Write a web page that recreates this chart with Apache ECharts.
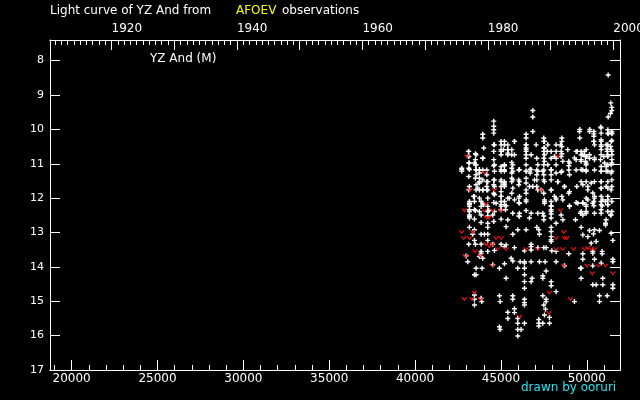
<!DOCTYPE html>
<html>
<head>
<meta charset="utf-8">
<script src="https://cdn.jsdelivr.net/npm/echarts@6/dist/echarts.min.js"></script>
<style>html,body{margin:0;padding:0;background:#000;}#c{width:640px;height:400px;}</style>
</head>
<body>
<div id="c"></div>
<script>
// JD - 2400000 range shown and magnitude range (inverted)
const jdRange = [18742, 51934];
const magRange = [7.4, 17];
const jdMajorTicks = [20000, 25000, 30000, 35000, 40000, 45000, 50000];
const jdMinorTicks = [19000,21000,22000,23000,24000,26000,27000,28000,29000,31000,32000,33000,34000,36000,37000,38000,39000,41000,42000,43000,44000,46000,47000,48000,49000,51000];
const yearLabels = [1920, 1940, 1960, 1980, 2000];
const yearMajorTicks = [1920, 1930, 1940, 1950, 1960, 1970, 1980, 1990, 2000];
const magTicks = [8, 9, 10, 11, 12, 13, 14, 15, 16, 17];

// visual observations [JD-2400000, magnitude]
const visualObs = [
 [51245,8.42],[51397,9.23],[51455,9.36],[51455,9.45],[51379,9.54],[51245,9.64],
 [46856,9.45],[46856,9.64],[44584,9.76],[44584,9.91],[44584,10.01],[44584,10.11],[46856,10.06],[49575,10.06],[50157,10.06],[50410,10.06],[50837,9.96],[50837,10.11],[51226,10.11],[51459,10.11],[51459,10.06],[51226,10.01],
 [50815,9.93],[50407,10.13],[50174,10.0],[49592,10.0],[51245,10.13],[51455,10.13],[49592,10.25],
 [43943,10.14],[43943,10.25],[46468,10.14],[46468,10.25],[47497,10.25],[47497,10.35],[50410,10.20],[50410,10.35],[50837,10.30],[51459,10.32],[51128,10.45],
 [45011,10.35],[45788,10.35],[44584,10.45],[45205,10.45],[46468,10.45],[46468,10.59],[47497,10.54],[47497,10.64],[47691,10.64],[48215,10.64],[48215,10.45],[48545,10.25],[48545,10.35],[48545,10.50],[49380,10.64],[49672,10.64],[49866,10.64],[50837,10.50],[51187,10.57],[51187,10.64],[51459,10.64],[51381,10.50],
 [43127,10.64],[43127,10.79],[43516,10.71],[43943,10.84],[44584,10.64],[45011,10.64],[45147,10.59],[45400,10.59],[45633,10.59],[45400,10.69],[45633,10.74],[46468,10.84],[47089,10.84],[47497,10.84],[47924,10.84],[48215,10.84],[48545,10.71],[48953,10.93],[48953,11.06],[49380,10.88],[49672,10.88],[49769,10.74],[49924,10.79],[49924,10.93],[50157,10.84],[50449,10.88],[50798,10.88],[50992,10.79],[51226,10.74],[51459,10.74],[51459,10.88],[51459,10.98],
 [42720,11.13],[42720,11.22],[43127,10.98],[43127,11.13],[43516,10.88],[43516,11.03],[43555,11.18],[43749,11.18],[43749,11.27],[43943,11.18],[44176,11.18],[44176,11.32],[44584,10.88],[44584,11.06],[45011,11.08],[45011,11.22],[45205,11.06],[45205,11.18],[45633,10.96],[45633,11.13],[45633,11.27],[46040,11.18],[46468,11.22],[46701,11.16],[46701,11.27],[47089,11.18],[47497,11.03],[47497,11.18],[47497,11.32],[47924,11.18],[48215,11.03],[48545,11.22],[48953,11.18],[49380,11.18],[49769,11.18],[49963,10.98],[49963,11.18],[50449,11.18],[50837,11.08],[50837,11.22],[51128,11.08],[51128,11.22],[51459,11.22],
 [43127,11.37],[43516,11.42],[43555,11.61],[43749,11.56],[43943,11.47],[44176,11.52],[44176,11.66],[44584,11.47],[44584,11.61],[45011,11.47],[45205,11.52],[45205,11.61],[45633,11.42],[45633,11.52],[46040,11.47],[46040,11.61],[46468,11.42],[46468,11.56],[47089,11.32],[47089,11.47],[47497,11.47],[47924,11.32],[47924,11.47],[48312,11.52],[48700,11.66],[49419,11.66],[49769,11.61],[50060,11.66],[50449,11.52],[50837,11.52],[50837,11.71],[51128,11.66],[51459,11.66],[51459,11.47],
 [43127,11.76],[43399,11.95],[43555,11.76],[43749,11.76],[43943,11.76],[44176,11.76],[44584,11.86],[45011,11.81],[45011,11.95],[45497,12.00],[45633,11.86],[46040,12.00],[46468,11.86],[46662,11.66],[47089,11.66],[47147,11.76],[47497,11.86],[47924,11.76],[48215,12.00],[48545,11.95],[48953,11.86],[49963,12.00],[50449,11.95],[50837,11.95],[51226,11.95],
 [43166,12.10],[43458,12.10],[43846,12.10],[44584,12.13],[45011,12.10],[45205,12.10],[46040,12.13],[46468,12.10],[47536,12.10],[47924,12.10],[48215,12.05],[49380,12.13],[49769,12.13],[50410,12.10],[50837,12.10],[51090,12.10],[51459,12.10],
 [43166,12.19],[43846,12.24],[44001,12.19],[45011,12.19],[45302,12.22],[47924,12.22],[48992,12.22],[49963,12.19],[50410,12.22],[50895,12.22],[51226,12.19],
 [43166,12.34],[43516,12.36],[44293,12.36],[45011,12.34],[45264,12.34],[46079,12.44],[46468,12.36],[47147,12.44],[47497,12.52],[47924,12.34],[47924,12.46],[49633,12.44],[49963,12.39],[50449,12.44],[50837,12.44],[51459,12.39],
 [43166,12.49],[43166,12.58],[43458,12.61],[43846,12.49],[44234,12.52],[44526,12.49],[45011,12.61],[45400,12.63],[46040,12.52],[46662,12.58],[47497,12.63],[47924,12.58],[48604,12.63],[49342,12.63],[49769,12.49],[51128,12.63],[51381,12.49],
 [44234,12.73],[43846,12.71],[44584,12.68],[48215,12.73],[51090,12.73],[51090,12.78],
 [43166,12.85],[43458,12.92],[44234,12.85],[45302,12.83],[45982,12.92],[46468,12.92],[47089,12.85],[47205,12.92],[47924,12.85],[47924,12.97],[49672,12.85],[50157,12.94],[50449,12.92],[50740,12.94],[50391,13.04],[51420,13.02],
 [43360,13.05],[43846,13.05],[44040,13.05],[44234,13.05],[45691,13.05],[47244,13.05],[47924,13.12],[49769,13.07],[50060,13.12],[51517,13.23],
 [43458,13.23],[44234,13.23],[43516,13.34],[43127,13.34],[43846,13.34],[44526,13.34],[45011,13.34],[45302,13.36],[46759,13.34],[46759,13.41],[47497,13.44],[47924,13.21],[47924,13.26],[50254,13.31],[50546,13.26],
 [43846,13.55],[43846,13.60],[44234,13.55],[44623,13.52],[45205,13.41],[45788,13.44],[46371,13.53],[46759,13.51],[47147,13.44],[47633,13.44],[47963,13.53],[48215,13.55],[48953,13.62],[49769,13.62],[50352,13.55],[50352,13.60],[50895,13.55],[50895,13.62],
 [42972,13.68],[43749,13.70],[43943,13.75],[45594,13.75],[45691,13.83],[46118,13.85],[46371,13.85],[46759,13.85],[47244,13.85],[47575,13.85],[48215,13.85],[49769,13.78],[50449,13.78],[51517,13.78],[51517,13.85],
 [43069,13.85],[44526,13.94],[45205,13.91],[46371,13.89],[46371,14.04],[48700,13.97],[49633,14.04],[50352,13.97],[50837,13.89],
 [43555,14.04],[43904,14.04],[44914,14.04],[45982,14.04],[47633,14.12],[49672,14.04],
 [43458,14.23],[43555,14.23],[47439,14.26],[47439,14.33],[45302,14.33],[46371,14.23],[46817,14.33],[49672,14.33],[50934,14.33],
 [46371,14.43],[46759,14.43],[47924,14.43],[47924,14.55],[50352,14.52],[50546,14.52],[50934,14.52],[51517,14.52],[51517,14.62],[46371,14.62],[48215,14.72],
 [43458,14.82],[43846,14.91],[44914,14.84],[45691,14.84],[47439,14.84],[50740,14.84],[51187,14.84],[43458,14.94],[43885,15.01],[44953,15.01],[45691,14.94],[46371,14.94],[46371,15.04],[47633,14.94],[47633,15.01],[49283,15.01],[50740,15.01],[46371,15.11],[43458,15.11],
 [45400,15.32],[45788,15.22],[45788,15.33],[47497,15.11],[47594,15.23],[47827,15.47],[45400,15.50],[45982,15.50],[47536,15.40],[47205,15.53],
 [45982,15.64],[46371,15.64],[47205,15.64],[47205,15.72],[47439,15.64],[47827,15.64],[44914,15.74],[44953,15.82],[45982,15.82],[46176,15.82],[45982,16.01]
];

// further visual observations read in the dense 10.3-12.6 mag band
const visualObsDense = [
 [45205,10.35],[45788,10.35],[47535,10.35],[50410,10.35],[50837,10.35],[51419,10.35],
 [44622,10.45],[45011,10.45],[45399,10.45],[46467,10.45],[47050,10.45],[47730,10.45],[48468,10.45],[50448,10.45],[50837,10.45],[51225,10.45],
 [44001,10.54],[45011,10.59],[45399,10.59],[46467,10.54],[46467,10.64],[47535,10.54],[47924,10.64],[48506,10.64],[48895,10.59],[49439,10.64],[49963,10.59],[50837,10.59],[51419,10.59],
 [43108,10.64],[43108,10.79],[43554,10.74],[43943,10.83],[45011,10.74],[45399,10.74],[45788,10.74],[46467,10.74],[46759,10.74],[47535,10.74],[48118,10.79],[48506,10.79],[49283,10.83],[49672,10.74],[49963,10.79],[50157,10.74],[50448,10.83],[50837,10.74],[51225,10.79],
 [43166,10.98],[43457,10.98],[43554,11.03],[44622,11.03],[45205,11.03],[45691,11.03],[46467,11.03],[47147,11.03],[47535,10.93],[47730,11.03],[48604,10.93],[48992,10.98],[49672,10.93],[49963,11.03],[51031,10.98],[51225,11.03],[51419,11.03],
 [42719,11.17],[43166,11.17],[43554,11.17],[43749,11.17],[44622,11.22],[45011,11.17],[45205,11.22],[45691,11.22],[46079,11.17],[46467,11.22],[46759,11.17],[47147,11.22],[47438,11.22],[47924,11.17],[48215,11.27],[48506,11.25],[48992,11.32],[49672,11.17],[49963,11.22],[50837,11.22],[51225,11.22],[51419,11.27],
 [43554,11.32],[43749,11.42],[44234,11.52],[43749,11.52],[44622,11.47],[45011,11.52],[45205,11.56],[45691,11.47],[46079,11.52],[46953,11.47],[47535,11.52],[48312,11.52],[48701,11.66],[49672,11.52],[49963,11.52],[50254,11.56],[50837,11.52],[51225,11.52],
 [43166,11.66],[43651,11.71],[43943,11.76],[44234,11.76],[44622,11.66],[45011,11.66],[45205,11.66],[45691,11.71],[46467,11.76],[46856,11.66],[47341,11.76],[47924,11.76],[48992,11.81],[50060,11.76],[50351,11.85],[50837,11.71],[51225,11.71],[51419,11.76],
 [43457,11.95],[43749,12.00],[44234,12.00],[44622,11.90],[45011,11.95],[45399,12.00],[45788,12.05],[46079,11.95],[46467,12.05],[47535,12.05],[48118,11.95],[48604,12.05],[49477,12.15],[49769,12.15],[50060,12.05],[50448,12.00],[50934,12.05],[51225,12.05],
 [43166,12.15],[43166,12.24],[43457,12.34],[43943,12.15],[44234,12.24],[44720,12.15],[45011,12.24],[45205,12.19],[46079,12.15],[47535,12.15],[47924,12.24],[48992,12.24],[49963,12.24],[50351,12.15],[50837,12.19],[51225,12.19],
 [43166,12.39],[43166,12.53],[43749,12.39],[44234,12.39],[44622,12.39],[45011,12.34],[45691,12.44],[46079,12.53],[46759,12.44],[47438,12.44],[47924,12.39],[48506,12.49],[49672,12.39],[49963,12.44],[50837,12.34],[51225,12.39],[51419,12.49]
];

// fainter-than estimates [JD-2400000, magnitude]
const fainterThan = [
 [43030,10.79],[48312,10.79],[44040,11.27],[43205,11.76],[44623,11.76],[47303,11.76],
 [42875,12.36],[44526,12.36],[45011,12.36],[44137,12.17],[48468,12.36],[44176,12.58],[44293,12.58],[44040,12.37],
 [42720,12.99],[43360,12.99],[48662,12.99],[42836,13.17],[43166,13.17],[44720,13.17],[45011,13.17],[48215,13.17],[48700,13.17],[48837,13.17],
 [44137,13.34],[44526,13.34],[44331,13.41],[43496,13.55],[44817,13.49],[45302,13.49],[46468,13.49],[47147,13.49],[48215,13.49],[48604,13.49],[49225,13.49],[49866,13.49],[50254,13.49],[50449,13.49],[50060,13.46],
 [42933,13.68],[43807,13.68],[44487,13.97],[48662,13.97],[50021,13.97],[50682,13.97],[51090,13.97],[51517,14.19],[50313,14.19],
 [43458,14.75],[47827,14.75],[42875,14.94],[43322,14.94],[43807,14.94],[49050,14.94],[47788,15.35],[46079,15.45]
];

function jdToYear(jd){ return 2000 + (jd + 2400000 - 2451544.5) / 365.25; }
function minorYears(){ const a=[]; for(let y=1911;y<=2000;y++){ if(y%10!==0) a.push(y);} return a; }
const plain = v => String(Math.round(v));

const FONT = 'DejaVu Sans';
const chart = echarts.init(document.getElementById('c'), null, {renderer:'canvas'});
const lineStyle = {color:'#fff', width:1};
const baseX = {
  type:'value', min: jdRange[0], max: jdRange[1], splitLine:{show:false},
  axisLine:{show:true, onZero:false, lineStyle}
};
const baseYear = {
  type:'value', min: jdToYear(jdRange[0]), max: jdToYear(jdRange[1]), splitLine:{show:false},
  axisLine:{show:true, onZero:false, lineStyle}
};
chart.setOption({
  backgroundColor:'#000',
  animation:false,
  grid:{left:50, right:20, top:40, bottom:30, containLabel:false, outerBoundsMode:'none'},
  xAxis:[
    Object.assign({}, baseX, {position:'bottom',
      axisTick:{show:true, inside:true, length:10, lineStyle, customValues: jdMajorTicks},
      axisLabel:{show:true, color:'#fff', fontFamily:FONT, fontSize:12, margin:3, formatter: plain, customValues: jdMajorTicks}}),
    Object.assign({}, baseX, {position:'bottom',
      axisTick:{show:true, inside:true, length:5, lineStyle, customValues: jdMinorTicks},
      axisLabel:{show:false}}),
    Object.assign({}, baseYear, {position:'top',
      axisTick:{show:true, inside:true, length:10, lineStyle, customValues: yearMajorTicks},
      axisLabel:{show:true, color:'#fff', fontFamily:FONT, fontSize:12, margin:5, align:'left', formatter: plain, customValues: yearLabels}}),
    Object.assign({}, baseYear, {position:'top',
      axisTick:{show:true, inside:true, length:5, lineStyle, customValues: minorYears()},
      axisLabel:{show:false}})
  ],
  yAxis:[
    {type:'value', inverse:true, min:magRange[0], max:magRange[1], position:'left', splitLine:{show:false},
     axisLine:{show:true, onZero:false, lineStyle},
     axisTick:{show:true, inside:true, length:10, lineStyle, customValues: magTicks},
     axisLabel:{show:true, color:'#fff', fontFamily:FONT, fontSize:11, margin:6, formatter: plain, customValues: magTicks}},
    {type:'value', inverse:true, min:magRange[0], max:magRange[1], position:'right', splitLine:{show:false},
     axisLine:{show:true, onZero:false, lineStyle},
     axisTick:{show:true, inside:true, length:10, lineStyle, customValues: magTicks},
     axisLabel:{show:false}}
  ],
  series:[
    {type:'scatter', xAxisIndex:0, yAxisIndex:0, data: visualObs.concat(visualObsDense),
     symbol:'path://M1.8,0H3.2V5H1.8Z M0,1.8H5V3.2H0Z', symbolSize:5,
     itemStyle:{color:'#fff', opacity:1}, silent:true},
    {type:'scatter', xAxisIndex:0, yAxisIndex:0, data: fainterThan,
     symbol:'path://M0,0L1.3,0L2.5,2.1L3.7,0L5,0L2.5,3.6Z', symbolSize:[6,4],
     itemStyle:{color:'#ff1010', opacity:1}, silent:true}
  ],
  graphic:[
    {type:'text', left:50, top:5, style:{text:'Light curve of YZ And from', fill:'#fff', font:'12px "DejaVu Sans"'}},
    {type:'text', left:236, top:5, style:{text:'AFOEV', fill:'#ffff00', font:'12px "DejaVu Sans"'}},
    {type:'text', left:282, top:5, style:{text:'observations', fill:'#fff', font:'12px "DejaVu Sans"'}},
    {type:'text', left:150, top:53, style:{text:'YZ And (M)', fill:'#fff', font:'12px "DejaVu Sans"'}},
    {type:'text', left:521, top:382, style:{text:'drawn by ooruri', fill:'#22e6f0', font:'12px "DejaVu Sans"'}}
  ]
});
</script>
</body>
</html>
